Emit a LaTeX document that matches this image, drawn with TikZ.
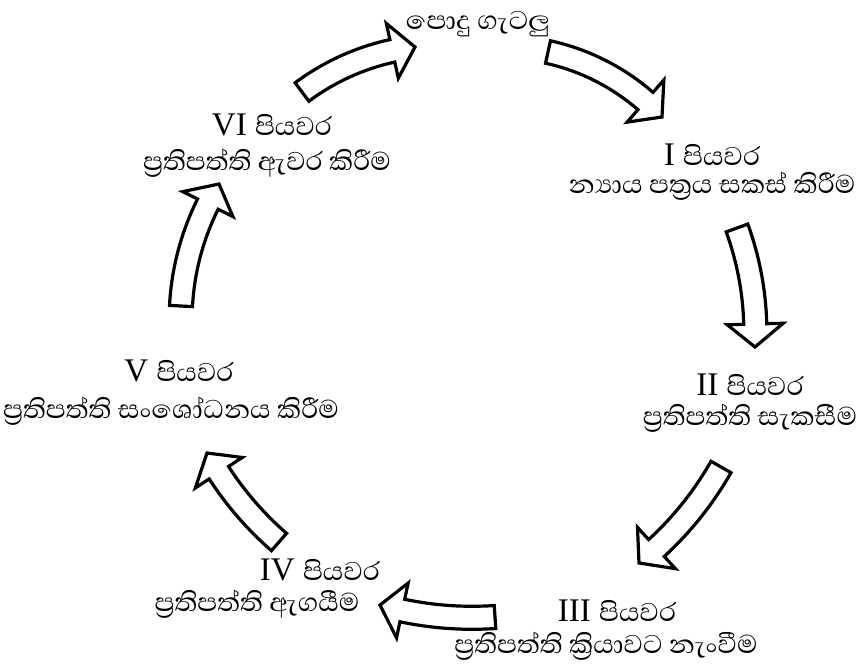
\documentclass[tikz,border=0pt]{standalone}
\usepackage{fontspec}
\setmainfont{Liberation Serif}
\newfontfamily\slfont[Script=Sinhala,FakeStretch=1.03]{Abhaya Libre}
\usetikzlibrary{calc}
\def\baw{1.15}
\def\bahw{2.8}
\def\bahl{2.3}
\newcommand\blockarrow[3]{%
  \path (#1); \pgfgetlastxy{\baXa}{\baYa}%
  \path (#2); \pgfgetlastxy{\baXb}{\baYb}%
  \pgfmathsetmacro\baxa{\baXa/10}%
  \pgfmathsetmacro\baya{\baYa/10}%
  \pgfmathsetmacro\baxb{\baXb/10}%
  \pgfmathsetmacro\bayb{\baYb/10}%
  \pgfmathsetmacro\badx{\baxb-\baxa}%
  \pgfmathsetmacro\bady{\bayb-\baya}%
  \pgfmathsetmacro\baD{sqrt(\badx*\badx+\bady*\bady)}%
  \pgfmathsetmacro\banx{-\bady/\baD}%
  \pgfmathsetmacro\bany{\badx/\baD}%
  \pgfmathsetmacro\baS{#3/10}%
  \pgfmathsetmacro\baR{(\baD*\baD/4+\baS*\baS)/(2*\baS)}%
  \pgfmathsetmacro\bacx{((\baxa+\baxb)/2+\banx*(\baS-\baR))*10}%
  \pgfmathsetmacro\bacy{((\baya+\bayb)/2+\bany*(\baS-\baR))*10}%
  \pgfmathsetmacro\baaa{atan2(\baya*10-\bacy,\baxa*10-\bacx)}%
  \pgfmathsetmacro\baab{atan2(\bayb*10-\bacy,\baxb*10-\bacx)}%
  \pgfmathsetmacro\baab{\baab-360*(\baab-\baaa>180)+360*(\baab-\baaa<-180)}%
  \pgfmathsetmacro\basg{ifthenelse(\baaa>\baab,1,-1)}%
  \pgfmathsetmacro\bah{\baab+\basg*\bahl/\baR*180/pi}%
  \pgfmathsetmacro\baRm{\baR*10}%
  \pgfmathsetmacro\baRo{(\baR+\baw)*10}%
  \pgfmathsetmacro\baRi{(\baR-\baw)*10}%
  \pgfmathsetmacro\baHo{(\baR+\bahw)*10}%
  \pgfmathsetmacro\baHi{(\baR-\bahw)*10}%
  \draw[barrow]
    ({\bacx+\baRo*cos(\baaa)},{\bacy+\baRo*sin(\baaa)})
    arc[start angle=\baaa, end angle=\bah, radius=\baRo pt]
    -- ({\bacx+\baHo*cos(\bah)},{\bacy+\baHo*sin(\bah)})
    -- ({\bacx+\baRm*cos(\baab)},{\bacy+\baRm*sin(\baab)})
    -- ({\bacx+\baHi*cos(\bah)},{\bacy+\baHi*sin(\bah)})
    -- ({\bacx+\baRi*cos(\bah)},{\bacy+\baRi*sin(\bah)})
    arc[start angle=\bah, end angle=\baaa, radius=\baRi pt]
    -- cycle;%
}
\tikzset{
  lbl/.style={anchor=base, inner sep=0pt, font=\fontsize{33}{35}\selectfont},
  barrow/.style={draw=black, line width=3.2pt, fill=white, line join=miter},
}
\begin{document}
\begin{tikzpicture}[x=1pt,y=1pt]
\useasboundingbox[fill=white] (0,0) rectangle (861,-670);
% labels
\node[lbl] (top)  at (478,-29)  {\slfont පොදු ගැටලු};
\node[lbl] (s1a)  at (712,-165) {I {\slfont පියවර}};
\node[lbl] (s1b)  at (712,-193) {\slfont න්^^^^200dයාය පත්^^^^200dරය සකස් කිරීම};
\node[lbl] (s2a)  at (750,-395) {II {\slfont පියවර}};
\node[lbl] (s2b)  at (750,-425) {\slfont ප්^^^^200dරතිපත්ති සැකසීම};
\node[lbl] (s3a)  at (617,-621) {III {\slfont පියවර}};
\node[lbl] (s3b)  at (606,-653) {\slfont ප්^^^^200dරතිපත්ති ක්^^^^200dරියාවට නැංවීම};
\node[lbl] (s4a)  at (320,-580) {IV {\slfont පියවර}};
\node[lbl] (s4b)  at (257,-611) {\slfont ප්^^^^200dරතිපත්ති ඇගයීම};
\node[lbl] (s5a)  at (179,-381) {V {\slfont පියවර}};
\node[lbl] (s5b)  at (171,-418) {\slfont ප්^^^^200dරතිපත්ති සංශෝධනය කිරීම};
\node[lbl] (s6a)  at (272,-135) {VI {\slfont පියවර}};
\node[lbl] (s6b)  at (267,-170) {\slfont ප්^^^^200dරතිපත්ති ඇවර කිරීම};
% arrow ends
\coordinate (t1) at (302,-92);  \coordinate (h1) at (415,-47);
\coordinate (t2) at (548,-52);  \coordinate (h2) at (662,-117);
\coordinate (t3) at (737,-228); \coordinate (h3) at (755,-347);
\coordinate (t4) at (721,-467); \coordinate (h4) at (639,-563);
\coordinate (t5) at (495,-617); \coordinate (h5) at (380,-605);
\coordinate (t6) at (279,-542); \coordinate (h6) at (207,-453);
\coordinate (t7) at (181,-306); \coordinate (h7) at (219,-184);
\blockarrow{t1}{h1}{8}
\blockarrow{t2}{h2}{10}
\blockarrow{t3}{h3}{6}
\blockarrow{t4}{h4}{6}
\blockarrow{t5}{h5}{5}
\blockarrow{t6}{h6}{5}
\blockarrow{t7}{h7}{8}
\end{tikzpicture}
\end{document}
